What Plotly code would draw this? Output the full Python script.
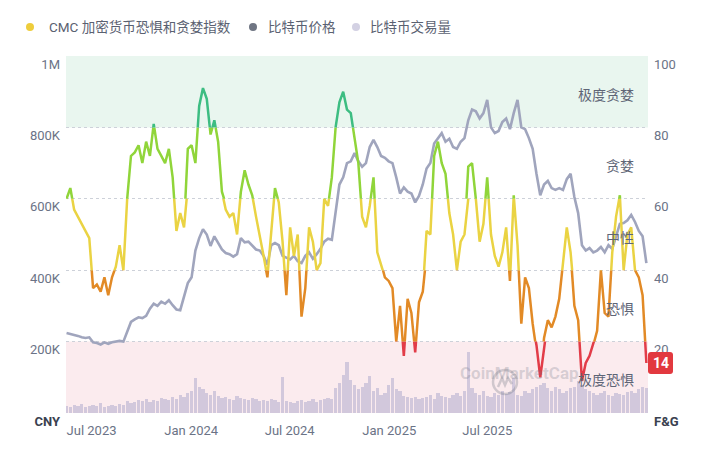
import pandas as pd
import plotly.graph_objects as go

# ---------------- data ----------------
dates = pd.date_range("2023-07-01", periods=154, freq="7D")

fear_greed = [
    60, 63, 57, 55, 53, 51, 49, 35, 36, 34, 38, 33, 38, 41, 47, 40,
    60, 72, 73, 75, 70, 76, 72, 81, 74, 72, 70, 74, 66,
    51, 56, 52, 74, 75, 70, 86, 91, 88, 78, 82, 76,
    62, 57, 55, 56, 50, 62, 68, 64, 61, 55, 50, 44,
    38, 50, 63, 59, 48, 33, 52, 44, 50, 27, 35, 52, 48, 40, 42, 60, 58, 66,
    80, 87, 90, 85, 84, 77, 70, 55, 52, 58, 66, 45, 42, 38, 37, 35, 20, 30, 16, 32, 28,
    17, 31, 34, 51, 50, 72, 76, 70, 67, 56, 50, 40, 48, 50,
    69, 70, 60, 48, 53, 66, 50, 44, 41, 45, 52, 37, 61, 47, 25, 38, 35,
    25, 19, 10, 21, 26, 24, 27, 32, 42, 52, 45, 30, 26, 9, 14, 16, 19, 23,
    40, 28, 27, 45, 55, 61, 40, 50, 52, 40, 38, 33, 14,
]

price_k_cny = [
    224, 222, 218, 216, 212, 210, 212, 198, 196, 192, 198, 194, 198, 200, 202, 200,
    225, 255, 262, 268, 266, 272, 292, 306, 300, 312, 306, 316, 302,
    290, 288, 330, 364, 380, 455, 490, 515, 500, 468, 495, 475,
    458, 448, 445, 438, 445, 490, 478, 480, 470, 458, 455, 440,
    415, 470, 476, 470, 440, 435, 430, 440, 425, 420, 440, 450, 432, 445, 460, 480, 488, 485,
    560, 640, 660, 700, 705, 728, 705, 690, 700, 745, 765, 745, 720, 715, 705, 700, 660, 615, 632, 620, 615,
    590, 608, 640, 685, 700, 755, 770, 784, 760, 768, 745, 740, 760, 770,
    820, 850, 845, 825, 840, 877, 800, 784, 790, 815, 825, 795, 840, 877, 800, 795, 770,
    740, 670, 610, 640, 650, 630, 625, 630, 625, 655, 670, 605, 560, 470, 455, 462, 450, 455,
    465, 450, 470, 460, 495, 530, 532, 540, 555, 535, 510, 495, 420,
]

volume_yi_cny = [
    700, 600, 800, 700, 900, 600, 700, 800, 700, 1000, 600, 700, 800, 700, 900, 800,
    1200, 1000, 1100, 1300, 1200, 1400, 1100, 1300, 1200, 1500, 1400, 1300, 1600,
    1400, 1800, 1600, 2000, 2200, 3500, 2600, 2400, 2000, 1800, 2200, 1700,
    1500, 1600, 1400, 1300, 1700, 1500, 1400, 1300, 1500, 1400, 1200, 1300,
    1200, 1400, 1300, 1100, 3600, 1200, 1100, 1000, 1200, 1300, 1100, 1200, 1400, 1100, 1300, 1400, 1500, 1400,
    2500, 3000, 3800, 5100, 3300, 2800, 2400, 2600, 3000, 3700, 2200, 2500, 1800, 2000, 2800, 3500, 2400, 2200, 1700, 1600, 1500,
    1600, 1400, 1500, 1600, 1800, 1400, 2000, 1700, 1600, 1500, 1800, 2000, 1700, 2200,
    6100, 2500, 2000, 1800, 2200, 1700, 1600, 2000, 1800, 2200, 1900, 2100, 3500, 1800, 1700, 2200, 2000,
    2400, 2600, 2800, 3000, 2500, 2200, 2600, 2400, 2000, 2200, 2500, 2600, 3200, 2800, 2400, 2200, 2000, 1800,
    2000, 2200, 1800, 1700, 2000, 1900, 1800, 2100, 2200, 2000, 2400, 2600, 2500,
]

latest_fg = fear_greed[-1]

fg_bands = [(0, 20), (20, 40), (40, 60), (60, 80), (80, 100)]
fg_band_colors = ["#e23c48", "#e28a26", "#ead343", "#90d53a", "#3dbd82"]
fg_band_names = ["极度恐惧", "恐惧", "中性", "贪婪", "极度贪婪"]

price_ticks = [0, 200, 400, 600, 800, 1000]
price_ticktext = ['<span style="color:#3a4150"><b>CNY</b></span>', "200K", "400K", "600K", "800K", "1M"]
fg_ticks = [0, 20, 40, 60, 80, 100]
fg_ticktext = ['<span style="color:#3a4150"><b>F&G</b></span>', "20", "40", "60", "80", "100"]
x_tickvals = ["2023-07-01", "2024-01-01", "2024-07-01", "2025-01-01", "2025-07-01"]
x_ticktext = ["Jul 2023", "Jan 2024", "Jul 2024", "Jan 2025", "Jul 2025"]

legend_items = [("CMC 加密货币恐惧和贪婪指数", "#eecd3c"), ("比特币价格", "#6f7583"), ("比特币交易量", "#d3d1e3")]

# ---------------- geometry (page is offset 8px by body margin) ----------------
OFF = 8
PL, PR, PT, PB = 66 - OFF, 648 - OFF, 56 - OFF, 413 - OFF   # plot box in figure px
FW, FH = 707 - OFF, 451 - OFF
PW, PH = PR - PL, PB - PT


def px_x(page_x):
    return (page_x - OFF - PL) / PW


def px_y(page_y):
    return (PB - (page_y - OFF)) / PH


FONT = "Roboto, 'Noto Sans CJK SC', sans-serif"
TICK_COLOR = "#6b7386"

fig = go.Figure()

# volume bars (own hidden axis)
fig.add_trace(go.Bar(
    x=dates, y=volume_yi_cny, yaxis="y8", marker=dict(color="#cbc3da", line=dict(width=0)),
    opacity=0.85, width=6 * 24 * 3600 * 1000, showlegend=False, hoverinfo="skip",
))

# bitcoin price
fig.add_trace(go.Scatter(
    x=dates, y=[p * 1000 for p in price_k_cny], yaxis="y", mode="lines",
    line=dict(color="#a0a5bd", width=2.6), showlegend=False, hoverinfo="skip",
))

# fear & greed line, one copy per colour band, each clipped to its own band subplot
for k, ((lo, hi), col) in enumerate(zip(fg_bands, fg_band_colors)):
    fig.add_trace(go.Scatter(
        x=dates, y=fear_greed, yaxis=f"y{3 + k}", mode="lines",
        line=dict(color=col, width=2.5), showlegend=False, hoverinfo="skip",
    ))

layout = dict(
    width=FW, height=FH,
    margin=dict(l=PL, r=FW - PR, t=PT, b=FH - PB, pad=0),
    paper_bgcolor="white", plot_bgcolor="rgba(0,0,0,0)",
    font=dict(family=FONT, size=13, color=TICK_COLOR),
    hovermode=False, bargap=0,
    xaxis=dict(
        type="date", range=["2023-06-30", "2026-06-09"], anchor="y",
        showgrid=False, zeroline=False, showline=False, ticks="",
        tickvals=x_tickvals, ticktext=x_ticktext,
        ticklabelshift=25, ticklabelstandoff=8,
        tickfont=dict(size=13, color=TICK_COLOR),
    ),
    yaxis=dict(
        range=[0, 1_000_000], domain=[0, 1],
        tickvals=[t * 1000 for t in price_ticks], ticktext=price_ticktext,
        showgrid=True, gridcolor="#cdd1d9", griddash="dot", gridwidth=1,
        zeroline=False, showline=False, ticks="",
        ticklabelshift=8, ticklabelstandoff=5,
        tickfont=dict(size=13, color=TICK_COLOR),
    ),
    yaxis2=dict(
        range=[0, 100], overlaying="y", side="right", anchor="x",
        tickvals=fg_ticks, ticktext=fg_ticktext,
        showgrid=False, zeroline=False, showline=False, ticks="",
        ticklabelshift=8, ticklabelstandoff=5,
        tickfont=dict(size=13, color=TICK_COLOR),
    ),
    yaxis8=dict(range=[0, 35700], overlaying="y", visible=False, fixedrange=True),
)
for k, (lo, hi) in enumerate(fg_bands):
    layout[f"yaxis{3 + k}"] = dict(
        range=[lo, hi], domain=[lo / 100, hi / 100], anchor="x",
        visible=False, showgrid=False, zeroline=False, fixedrange=True,
    )
fig.update_layout(**layout)

# background bands
fig.add_shape(type="rect", xref="paper", yref="paper", x0=0, x1=1, y0=0.8, y1=1.0,
              fillcolor="#e9f6ef", line=dict(width=0), layer="below")
fig.add_shape(type="rect", xref="paper", yref="paper", x0=0, x1=1, y0=0.0, y1=0.2,
              fillcolor="#fbebee", line=dict(width=0), layer="below")

# watermark
wx, wy = px_x(505), px_y(382)
fig.add_shape(type="circle", xref="paper", yref="paper", xsizemode="pixel", ysizemode="pixel",
              xanchor=wx, yanchor=wy, x0=-12, x1=12, y0=-12, y1=12,
              line=dict(color="rgba(110,115,130,0.30)", width=2.5), layer="above")
fig.add_shape(type="path", xref="paper", yref="paper", xsizemode="pixel", ysizemode="pixel",
              xanchor=wx, yanchor=wy,
              path="M -7,-5 L -3,4 L 0,-3 L 3,4 L 7,-2",
              line=dict(color="rgba(110,115,130,0.30)", width=2.5), layer="above")
fig.add_annotation(xref="paper", yref="paper", x=px_x(581), y=px_y(385),
                   text="<b>CoinMarketCap</b>", showarrow=False,
                   font=dict(size=17, color="rgba(110,115,130,0.26)", family=FONT))

# band labels
for (lo, hi), name in zip(fg_bands, fg_band_names):
    fig.add_annotation(xref="paper", yref="y2", x=1, y=(lo + hi) / 2, xanchor="right",
                       xshift=-12, yshift=-3, text=name, showarrow=False,
                       font=dict(size=14, color="#5e6576", family=FONT))

# latest value badge
badge_y = latest_fg / 100
fig.add_shape(type="path", xref="paper", yref="paper", xsizemode="pixel", ysizemode="pixel",
              xanchor=1, yanchor=badge_y,
              path="M 3,-11 L 22,-11 Q 25,-11 25,-8 L 25,8 Q 25,11 22,11 L 3,11 Q 0,11 0,8 L 0,-8 Q 0,-11 3,-11 Z",
              fillcolor="#e2393f", line=dict(width=0), layer="above")
fig.add_annotation(xref="paper", yref="paper", x=1, y=badge_y, xanchor="center", yanchor="middle",
                   xshift=12.5, text=f"<b>{latest_fg}</b>", showarrow=False,
                   font=dict(size=14, color="white", family=FONT))

# legend (dots + labels)
legend_dot_px = [30, 253, 356]
legend_text_px = [47, 266, 368]
legend_y = px_y(27)
for (label, col), dx, tx in zip(legend_items, legend_dot_px, legend_text_px):
    fig.add_shape(type="circle", xref="paper", yref="paper", xsizemode="pixel", ysizemode="pixel",
                  xanchor=px_x(dx), yanchor=legend_y, x0=-4, x1=4, y0=-4, y1=4,
                  fillcolor=col, line=dict(width=0))
    fig.add_annotation(xref="paper", yref="paper", x=px_x(tx), y=legend_y,
                       xanchor="left", yanchor="middle", text=label, showarrow=False,
                       font=dict(size=13.5, color="#5a6171", family=FONT))

fig.write_html("out.html")
